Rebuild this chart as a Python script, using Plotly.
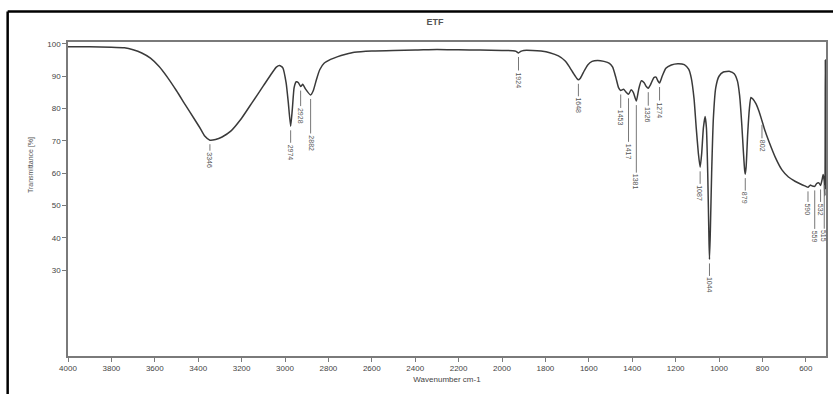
import plotly.graph_objects as go

# ---- spectrum data (wavenumber cm-1, transmittance %) ----
wavenumber = [4000, 3900, 3800, 3740, 3700, 3660, 3620, 3580, 3540, 3500, 3460, 3420, 3390, 3370,
              3346, 3320, 3290, 3250, 3200, 3150, 3100, 3060, 3040, 3025, 3010, 2995, 2985, 2974,
              2966, 2958, 2948, 2938, 2928, 2918, 2905, 2882, 2870, 2855, 2840, 2820, 2790, 2760,
              2720, 2680, 2600, 2500, 2400, 2300, 2200, 2100, 2000, 1950, 1935, 1924, 1914, 1900,
              1860, 1820, 1780, 1740, 1710, 1690, 1670, 1655, 1648, 1640, 1625, 1605, 1585, 1560,
              1530, 1505, 1490, 1475, 1463, 1453, 1440, 1430, 1417, 1405, 1395, 1381, 1370, 1358,
              1345, 1335, 1326, 1315, 1300, 1290, 1282, 1274, 1262, 1245, 1220, 1190, 1160, 1140,
              1128, 1115, 1105, 1095, 1087, 1080, 1072, 1064, 1058, 1052, 1047, 1044, 1040, 1034,
              1026, 1015, 1000, 980, 950, 930, 915, 905, 895, 888, 882, 879, 875, 868, 860, 853,
              845, 830, 815, 802, 790, 770, 740, 710, 680, 650, 620, 600, 590, 580, 570, 559, 550,
              540, 532, 525, 520, 515, 512, 510, 508]
transmittance = [99.1, 99.1, 99.0, 98.8, 98.2, 97.2, 95.6, 93.0, 89.5, 85.5, 81.2, 77.0, 73.8, 71.5,
                 70.2, 70.4, 71.2, 73.0, 77.0, 82.0, 87.0, 91.0, 92.8, 93.3, 92.6, 88.0, 82.0, 74.5,
                 80.0, 86.5, 88.3, 88.0, 86.8, 87.5, 86.0, 84.2, 85.5, 89.0, 92.0, 94.0, 95.2, 96.0,
                 96.8, 97.4, 97.8, 98.0, 98.1, 98.3, 98.2, 98.1, 98.0, 97.9, 97.7, 97.2, 97.7, 98.0,
                 98.0, 97.8, 97.3, 96.3, 94.8, 93.0, 90.8, 89.3, 88.9, 89.3, 91.2, 93.5, 94.6, 94.9,
                 94.6, 94.0, 92.8, 89.5, 86.5, 85.6, 86.0, 85.2, 84.4, 85.8, 85.0, 82.3, 86.0, 88.6,
                 88.0, 86.8, 86.3, 87.5, 89.6, 89.7, 88.6, 87.9, 90.0, 92.5, 93.5, 93.9, 93.6, 92.2,
                 89.5, 83.0, 74.0, 66.0, 61.8, 66.0, 74.0, 77.5, 74.0, 60.0, 42.0, 33.3, 42.0, 60.0,
                 77.0, 86.5, 90.0, 91.3, 91.5, 90.8, 88.5, 84.0, 75.0, 67.0, 61.0, 59.7, 62.0, 72.0,
                 80.0, 83.4, 83.0, 81.5, 79.0, 76.2, 73.5, 69.8, 64.8, 61.0, 58.8, 57.5, 56.5, 55.9,
                 55.6, 56.3, 56.0, 55.9, 56.8, 57.0, 56.2, 58.0, 59.6, 57.5, 53.0, 95.0, 55.0]

# ---- peak picks ----
peak_wn = [3346, 2974, 2928, 2882, 1924, 1648, 1453, 1417, 1381, 1326, 1274,
           1087, 1044, 879, 802, 590, 559, 532, 515]
peak_T = [70.2, 74.5, 86.8, 84.2, 97.2, 88.9, 85.6, 84.4, 82.3, 86.3, 87.9,
          61.8, 33.3, 59.7, 76.2, 55.6, 55.9, 56.2, 57.5]
# label drop below the peak (pixels) - style
label_drop = [20, 26, 29, 48, 27, 26, 27, 57, 81, 27, 27, 26, 26, 24, 25, 22, 50, 24, 55]

x_ticks = list(range(600, 4001, 200))
y_ticks = list(range(30, 101, 10))

FONT = "Liberation Sans, Arial, sans-serif"
AX = "#7a7a7a"

fig = go.Figure()
fig.add_trace(go.Scatter(x=wavenumber, y=transmittance, mode="lines",
                         line=dict(color="#3a3a3a", width=1.5, shape="spline", smoothing=0.5),
                         hoverinfo="skip"))

for wn, t, d in zip(peak_wn, peak_T, label_drop):
    fig.add_annotation(x=wn, y=t, xref="x", yref="y", text=str(wn), textangle=90,
                       showarrow=True, arrowhead=0, arrowwidth=1, arrowcolor="#777",
                       ax=0, ay=d, standoff=4, borderpad=1,
                       font=dict(family=FONT, size=7, color="#555"))

fig.update_layout(
    width=833, height=394,
    margin=dict(l=68, r=5, t=42, b=38),
    paper_bgcolor="white", plot_bgcolor="white",
    showlegend=False,
    font=dict(family=FONT, size=8, color="#444"),
    title=dict(text="<b>ETF</b>", x=(435) / 833, xanchor="center", y=1 - 22 / 394, yanchor="middle",
               font=dict(family=FONT, size=9, color="#555")),
    xaxis=dict(range=[4000, 507], tickvals=x_ticks, ticks="outside", ticklen=4, tickcolor=AX,
               showgrid=False, zeroline=False, showline=True, linecolor=AX, linewidth=1.5,
               mirror=True, tickfont=dict(size=8, color="#444"),
               title=dict(text="Wavenumber cm-1", font=dict(size=8, color="#444"), standoff=4)),
    yaxis=dict(range=[3.4, 100.6], tickvals=y_ticks, ticks="outside", ticklen=4, tickcolor=AX,
               showgrid=False, zeroline=False, showline=True, linecolor=AX, linewidth=1.5,
               mirror=True, tickfont=dict(size=8, color="#444")),
)

fig.add_annotation(text="Transmittance [%]", xref="paper", yref="paper",
                   x=(25 - 68) / 760, y=(356 - 165) / 314, textangle=-90, showarrow=False,
                   font=dict(family=FONT, size=7, color="#555"))

# outer black frame (left and top)
fig.add_shape(type="line", xref="paper", yref="paper", x0=(7.5 - 68) / 760, x1=(7.5 - 68) / 760,
              y0=(356 - 394) / 314 - 0.05, y1=(356 - 11.5) / 314, line=dict(color="black", width=2.5))
fig.add_shape(type="line", xref="paper", yref="paper", x0=(7.5 - 68) / 760, x1=(840 - 68) / 760,
              y0=(356 - 11.5) / 314, y1=(356 - 11.5) / 314, line=dict(color="black", width=2.5))

fig.write_html("out.html")
